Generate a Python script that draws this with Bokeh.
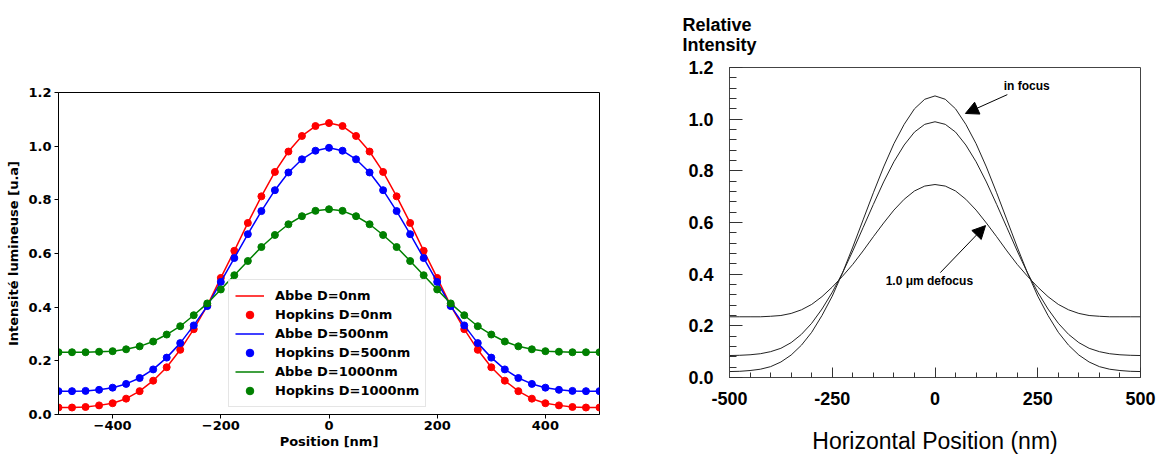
from bokeh.plotting import figure
from bokeh.layouts import row
from bokeh.models import (Range1d, FixedTicker, Legend, LegendItem, Label, Arrow,
                          NormalHead, ColumnDataSource, PrintfTickFormatter, Title)
from bokeh.embed import file_html
from bokeh.resources import INLINE

# ---------------- data: left panel (Abbe / Hopkins), 25 nm steps ----------------
position_nm = [-500, -475, -450, -425, -400, -375, -350, -325, -300, -275, -250,
               -225, -200, -175, -150, -125, -100, -75, -50, -25, 0,
               25, 50, 75, 100, 125, 150, 175, 200, 225, 250,
               275, 300, 325, 350, 375, 400, 425, 450, 475, 500]

d0_intensity = [0.026, 0.026, 0.028, 0.034, 0.042, 0.059, 0.087, 0.126, 0.176, 0.241, 0.318,
                0.406, 0.509, 0.610, 0.714, 0.813, 0.904, 0.980, 1.038, 1.075, 1.086,
                1.075, 1.038, 0.980, 0.904, 0.813, 0.714, 0.610, 0.509, 0.406, 0.318,
                0.241, 0.176, 0.126, 0.087, 0.059, 0.042, 0.034, 0.028, 0.026, 0.026]

d500_intensity = [0.087, 0.087, 0.088, 0.092, 0.100, 0.114, 0.136, 0.168, 0.212, 0.266, 0.332,
                  0.404, 0.494, 0.583, 0.672, 0.758, 0.836, 0.902, 0.951, 0.983, 0.994,
                  0.983, 0.951, 0.902, 0.836, 0.758, 0.672, 0.583, 0.494, 0.404, 0.332,
                  0.266, 0.212, 0.168, 0.136, 0.114, 0.100, 0.092, 0.088, 0.087, 0.087]

d1000_intensity = [0.232, 0.232, 0.232, 0.234, 0.236, 0.243, 0.254, 0.272, 0.298, 0.329, 0.370,
                   0.414, 0.466, 0.519, 0.572, 0.624, 0.669, 0.709, 0.739, 0.759, 0.765,
                   0.759, 0.739, 0.709, 0.669, 0.624, 0.572, 0.519, 0.466, 0.414, 0.370,
                   0.329, 0.298, 0.272, 0.254, 0.243, 0.236, 0.234, 0.232, 0.232, 0.232]

left_series = [
    ("Abbe D=0nm", "Hopkins D=0nm", d0_intensity, "#ff0000"),
    ("Abbe D=500nm", "Hopkins D=500nm", d500_intensity, "#0000ff"),
    ("Abbe D=1000nm", "Hopkins D=1000nm", d1000_intensity, "#008000"),
]
left_xticks = [-400, -200, 0, 200, 400]
left_yticks = [0.0, 0.2, 0.4, 0.6, 0.8, 1.0, 1.2]

# ---------------- data: right panel (reference figure) ----------------
ref_position_nm = position_nm
ref_in_focus = [0.023, 0.024, 0.027, 0.032, 0.042, 0.060, 0.087, 0.125, 0.175, 0.240, 0.315,
                0.405, 0.505, 0.610, 0.715, 0.815, 0.905, 0.980, 1.040, 1.077, 1.090,
                1.077, 1.040, 0.980, 0.905, 0.815, 0.715, 0.610, 0.505, 0.405, 0.315,
                0.240, 0.175, 0.125, 0.087, 0.060, 0.042, 0.032, 0.027, 0.024, 0.023]
ref_middle = [0.085, 0.086, 0.088, 0.092, 0.100, 0.113, 0.135, 0.167, 0.210, 0.265, 0.330,
              0.405, 0.490, 0.580, 0.670, 0.757, 0.835, 0.900, 0.950, 0.980, 0.990,
              0.980, 0.950, 0.900, 0.835, 0.757, 0.670, 0.580, 0.490, 0.405, 0.330,
              0.265, 0.210, 0.167, 0.135, 0.113, 0.100, 0.092, 0.088, 0.086, 0.085]
ref_defocus = [0.235, 0.235, 0.235, 0.235, 0.237, 0.240, 0.248, 0.262, 0.283, 0.313, 0.350,
               0.392, 0.438, 0.490, 0.545, 0.598, 0.648, 0.690, 0.722, 0.741, 0.747,
               0.741, 0.722, 0.690, 0.648, 0.598, 0.545, 0.490, 0.438, 0.392, 0.350,
               0.313, 0.283, 0.262, 0.248, 0.240, 0.237, 0.235, 0.235, 0.235, 0.235]
right_xticks = [-500, -250, 0, 250, 500]
right_xminor = [-450, -400, -350, -300, -200, -150, -100, -50,
                50, 100, 150, 200, 300, 350, 400, 450]
right_yticks = [0.0, 0.2, 0.4, 0.6, 0.8, 1.0, 1.2]
right_yminor = [0.04, 0.08, 0.12, 0.16, 0.24, 0.28, 0.32, 0.36, 0.44, 0.48, 0.52, 0.56,
                0.64, 0.68, 0.72, 0.76, 0.84, 0.88, 0.92, 0.96, 1.04, 1.08, 1.12, 1.16]

# ---------------- left figure ----------------
MPL_FONT = "DejaVu Sans"
p1 = figure(width=620, height=451, output_backend="svg", toolbar_location=None,
            x_range=Range1d(-500, 500), y_range=Range1d(0, 1.2),
            min_border_left=58, min_border_right=21, min_border_top=92, min_border_bottom=37)
p1.frame_align = False
p1.xgrid.visible = False
p1.ygrid.visible = False
p1.outline_line_color = "black"
p1.outline_line_width = 1
p1.background_fill_color = "white"
p1.border_fill_color = "white"

items = []
for abbe_lbl, hop_lbl, vals, col in left_series:
    src = ColumnDataSource(dict(x=position_nm, y=vals))
    r_line = p1.line("x", "y", source=src, line_color=col, line_width=1.5)
    r_pts = p1.scatter("x", "y", source=src, marker="circle", size=7,
                       fill_color=col, line_color=col)
    items.append(LegendItem(label=abbe_lbl, renderers=[r_line]))
    items.append(LegendItem(label=hop_lbl, renderers=[r_pts]))

legend = Legend(items=items, location=(170, 7), margin=0, padding=6, spacing=0,
                label_height=19, glyph_height=19, glyph_width=29, label_standoff=11,
                label_text_font=MPL_FONT, label_text_font_style="bold",
                label_text_font_size="13px", label_text_color="black",
                border_line_color="#cccccc",
                border_line_width=1, background_fill_alpha=0.85)
p1.add_layout(legend, "center")

for ax in (p1.xaxis[0], p1.yaxis[0]):
    ax.major_label_text_font = MPL_FONT
    ax.major_label_text_font_style = "bold"
    ax.major_label_text_font_size = "13px"
    ax.major_label_text_color = "black"
    ax.axis_label_text_font = MPL_FONT
    ax.axis_label_text_font_style = "bold"
    ax.axis_label_text_font_size = "13px"
    ax.axis_label_text_color = "black"
    ax.major_tick_out = 4
    ax.major_tick_in = 0
    ax.minor_tick_out = 0
    ax.minor_tick_in = 0
    ax.axis_line_color = "black"
    ax.major_tick_line_color = "black"
    ax.major_label_standoff = 2

p1.xaxis[0].ticker = FixedTicker(ticks=left_xticks)
p1.xaxis[0].major_label_overrides = {-400: "\u2212400", -200: "\u2212200"}
p1.xaxis[0].axis_label = "Position [nm]"
p1.xaxis[0].axis_label_standoff = 1
p1.yaxis[0].ticker = FixedTicker(ticks=left_yticks)
p1.yaxis[0].formatter = PrintfTickFormatter(format="%.1f")
p1.yaxis[0].axis_label = "Intensité lumineuse [u.a]"
p1.yaxis[0].axis_label_standoff = 4
p1.yaxis[0].major_label_standoff = 3

# ---------------- right figure ----------------
REF_FONT = "Liberation Sans"
p2 = figure(width=538, height=456, output_backend="svg", toolbar_location=None,
            x_range=Range1d(-500, 500), y_range=Range1d(0, 1.2),
            min_border_left=109, min_border_right=18, min_border_top=67, min_border_bottom=72)
p2.frame_align = False
p2.xgrid.visible = False
p2.ygrid.visible = False
p2.outline_line_color = "#444444"
p2.outline_line_width = 1
p2.background_fill_color = "white"
p2.border_fill_color = "white"

for vals in (ref_in_focus, ref_middle, ref_defocus):
    p2.line(ref_position_nm, vals, line_color="#222222", line_width=1)

for ax in (p2.xaxis[0], p2.yaxis[0]):
    ax.major_label_text_font = REF_FONT
    ax.major_label_text_font_style = "bold"
    ax.major_label_text_font_size = "18px"
    ax.major_label_text_color = "black"
    ax.axis_label_text_font = REF_FONT
    ax.axis_label_text_color = "black"
    ax.axis_line_color = "#444444"
    ax.major_tick_line_color = "#333333"
    ax.minor_tick_line_color = "#333333"
    ax.major_tick_out = 0
    ax.minor_tick_out = 0

p2.xaxis[0].ticker = FixedTicker(ticks=right_xticks, minor_ticks=right_xminor)
p2.xaxis[0].major_label_overrides = {-500: "-500", -250: "-250"}
p2.xaxis[0].major_tick_in = 10
p2.xaxis[0].minor_tick_in = 5
p2.xaxis[0].major_label_standoff = 14
p2.xaxis[0].axis_label = "Horizontal Position (nm)"
p2.xaxis[0].axis_label_text_font_size = "23px"
p2.xaxis[0].axis_label_text_font_style = "normal"
p2.xaxis[0].axis_label_standoff = 20

p2.yaxis[0].ticker = FixedTicker(ticks=right_yticks, minor_ticks=right_yminor)
p2.yaxis[0].formatter = PrintfTickFormatter(format="%.1f")
p2.yaxis[0].major_tick_in = 13
p2.yaxis[0].minor_tick_in = 7
p2.yaxis[0].major_label_standoff = 16

# "Relative / Intensity" heading above the y axis
p2.add_layout(Title(text="Relative\nIntensity", align="left", offset=-47, standoff=25,
                    text_font=REF_FONT, text_font_style="bold", text_font_size="18px",
                    text_line_height=1.0, text_color="black"), "above")

p2.add_layout(Label(x=167, y=1.13, text="in focus", text_font=REF_FONT,
                    text_font_style="bold", text_font_size="12px",
                    text_baseline="middle", text_color="black"))
p2.add_layout(Arrow(end=NormalHead(size=13, fill_color="black", line_color="black"),
                    x_start=176, y_start=1.095, x_end=74, y_end=1.022,
                    line_color="black", line_width=1))
p2.add_layout(Label(x=-120, y=0.372, text="1.0 \u03bcm defocus", text_font=REF_FONT,
                    text_font_style="bold", text_font_size="12px",
                    text_baseline="middle", text_color="black"))
p2.add_layout(Arrow(end=NormalHead(size=13, fill_color="black", line_color="black"),
                    x_start=13, y_start=0.406, x_end=123, y_end=0.588,
                    line_color="black", line_width=1))

layout = row(p1, p2, spacing=0)
open("out.html", "w").write(file_html(layout, INLINE))
